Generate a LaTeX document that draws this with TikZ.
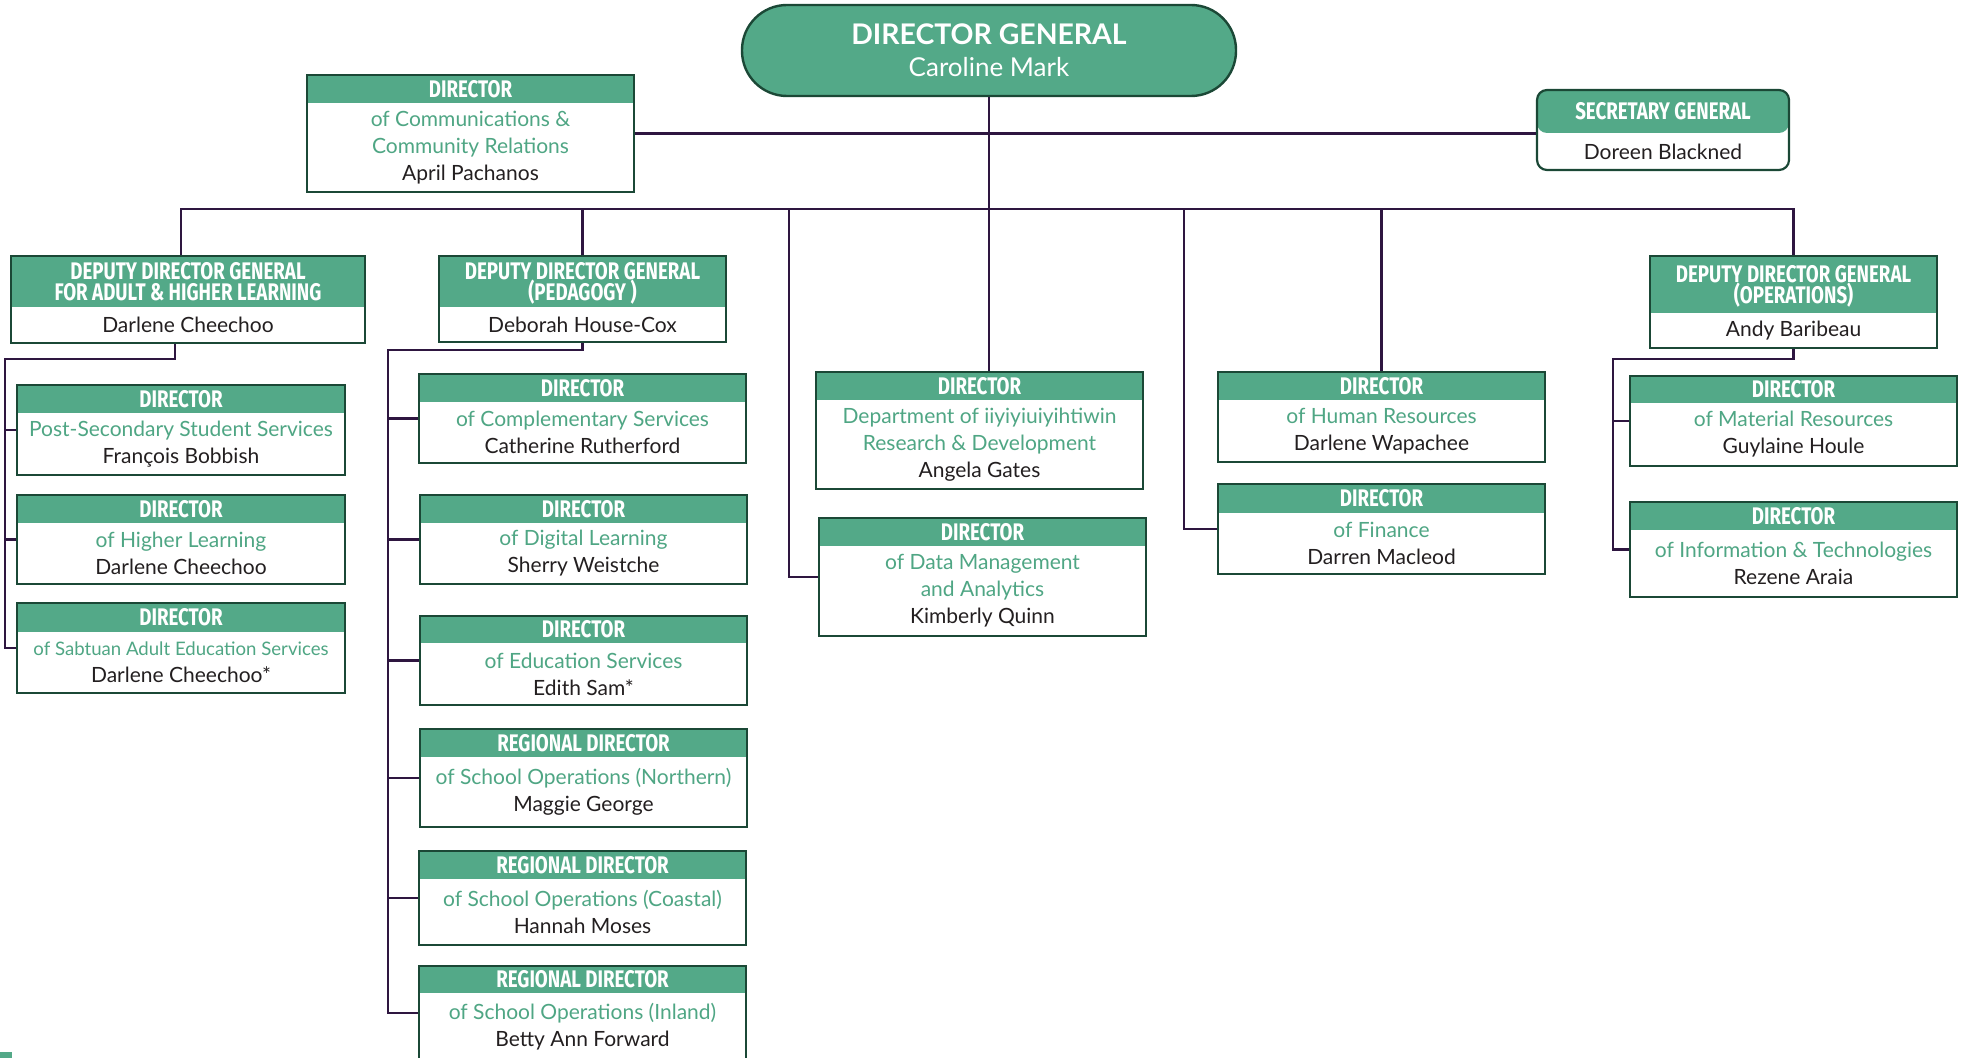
\documentclass[tikz,border=0pt]{standalone}
\usepackage{fontspec}
\setmainfont{Lato}
\newfontfamily\hdfont[FakeStretch=0.78]{Fira Sans}
\definecolor{hdgreen}{RGB}{83,169,136}
\definecolor{subgreen}{RGB}{79,166,132}
\definecolor{boxline}{RGB}{27,72,54}
\definecolor{linkpurple}{RGB}{46,22,64}
\definecolor{nametext}{RGB}{35,31,32}
\newcommand\subline[1]{\textcolor{subgreen}{#1}}
\newcommand\orgunit[9][]{%
  \node[unit, #1, minimum width={(#5-#3)*0.5pt}, minimum height={(#6-#4)*0.5pt},
    path picture={\fill[hdgreen] (path picture bounding box.north west) rectangle
      ([yshift={(#4-#7)*0.5pt}]path picture bounding box.north east);}]
    (#2) at ({(#3+#5)/2},{(#4+#6)/2}) {};
  \node[unittitle] (#2-t) at ({(#3+#5)/2},{(#4+#7)/2}) {#8};
  \node[unitbody] (#2-b) at ({(#3+#5)/2},{(#7+#6)/2}) {#9};
}

\begin{document}
\begin{tikzpicture}[x=0.5pt, y=-0.5pt,
  unit/.style={rectangle, draw=boxline, line width=1.1pt, fill=white, inner sep=0pt},
  unittitle/.style={text=white, font=\hdfont\bfseries\fontsize{12}{10.5}\selectfont, align=center, inner sep=0pt},
  unitbody/.style={text=nametext, font=\fontsize{10.5}{13.5}\selectfont, align=center, inner sep=0pt},
  dgbox/.style={rectangle, rounded corners=22.5pt, draw=boxline, line width=1.2pt, fill=hdgreen,
    text=white, font=\fontsize{13}{16}\selectfont, align=center, inner sep=0pt},
  link/.style={draw=linkpurple, line width=1.2pt}]
  \useasboundingbox (0,0) rectangle (1962,1058);

  \node[dgbox, minimum width=247pt, minimum height=45.5pt] (dg) at (989,50.5)
    {{\bfseries\fontsize{14.2}{16}\selectfont DIRECTOR GENERAL}\\Caroline Mark};

  \orgunit{comms}{307}{75}{634}{192}{103}{DIRECTOR}
    {\subline{of Communications \&}\\\subline{Community Relations}\\April Pachanos}
  \orgunit[rounded corners=5pt]{sg}{1537}{90}{1789}{170}{133}{SECRETARY GENERAL}{Doreen Blackned}

  \orgunit{ddgA}{11}{256}{365}{343}{307}{DEPUTY DIRECTOR GENERAL\\FOR ADULT \& HIGHER LEARNING}{Darlene Cheechoo}
  \orgunit{ddgP}{439}{256}{726}{342}{307}{DEPUTY DIRECTOR GENERAL\\\smash{(PEDAGOGY )}}{Deborah House-Cox}
  \orgunit{ddgO}{1650}{256}{1937}{348}{313}{DEPUTY DIRECTOR GENERAL\\\smash{(OPERATIONS)}}{Andy Baribeau}

  \orgunit{postsec}{17}{385}{345}{475}{413}{DIRECTOR}{\subline{Post-Secondary Student Services}\\François Bobbish}
  \orgunit{higher}{17}{495}{345}{584}{523}{DIRECTOR}{\subline{of Higher Learning}\\Darlene Cheechoo}
  \orgunit{sabtuan}{17}{603}{345}{693}{632}{DIRECTOR}
    {\subline{\fontsize{9.3}{13.5}\selectfont of Sabtuan Adult Education Services}\\Darlene Cheechoo*}

  \orgunit{compl}{419}{374}{746}{463}{402}{DIRECTOR}{\subline{of Complementary Services}\\Catherine Rutherford}
  \orgunit{digital}{420}{495}{747}{584}{523}{DIRECTOR}{\subline{of Digital Learning}\\Sherry Weistche}
  \orgunit{educ}{420}{616}{747}{705}{643}{DIRECTOR}{\subline{of Education Services}\\Edith Sam*}
  \orgunit{north}{420}{729}{747}{827}{757}{REGIONAL DIRECTOR}{\subline{of School Operations (Northern)}\\Maggie George}
  \orgunit{coast}{419}{851}{746}{945}{879}{REGIONAL DIRECTOR}{\subline{of School Operations (Coastal)}\\Hannah Moses}
  \orgunit{inland}{419}{966}{746}{1060}{993}{REGIONAL DIRECTOR}{\subline{of School Operations (Inland)}\\Betty Ann Forward}

  \orgunit{iiyi}{816}{372}{1143}{489}{400}{DIRECTOR}
    {\subline{Department of iiyiyiuiyihtiwin}\\\subline{Research \& Development}\\Angela Gates}
  \orgunit{data}{819}{518}{1146}{636}{546}{DIRECTOR}
    {\subline{of Data Management}\\\subline{and Analytics}\\Kimberly Quinn}
  \orgunit{hr}{1218}{372}{1545}{462}{400}{DIRECTOR}{\subline{of Human Resources}\\Darlene Wapachee}
  \orgunit{fin}{1218}{484}{1545}{574}{513}{DIRECTOR}{\subline{of Finance}\\Darren Macleod}
  \orgunit{mat}{1630}{376}{1957}{466}{403}{DIRECTOR}{\subline{of Material Resources}\\Guylaine Houle}
  \orgunit{info}{1630}{502}{1957}{597}{530}{DIRECTOR}{\subline{of Information \& Technologies}\\Rezene Araia}

  \coordinate (bus) at (987,209);
  \coordinate (dropD) at (789,209);
  \coordinate (dropF) at (1184,209);
  \coordinate (spineA) at (5,359);
  \coordinate (spineP) at (388,350);
  \coordinate (spineO) at (1613,359);

  \draw[link] (dg.south) -- (dg.south |- iiyi.north);
  \draw[link] (comms.east) -- (comms.east -| sg.west);
  \draw[link] ([xshift=-3.5pt]ddgA.north) |- (bus) -| (ddgO.north);
  \draw[link] (ddgP.north) -- (ddgP.north |- bus);
  \draw[link] (hr.north) -- (hr.north |- bus);
  \draw[link] (data.west) -| (dropD);
  \draw[link] (fin.west) -| (dropF);
  \draw[link] ([xshift=-6.5pt]ddgA.south) |- (spineA) |- (sabtuan.west);
  \foreach \u in {postsec,higher} \draw[link] (\u.west) -- (\u.west -| spineA);
  \draw[link] (ddgP.south) |- (spineP) |- (inland.west);
  \foreach \u in {compl,digital,educ,north,coast} \draw[link] (\u.west) -- (\u.west -| spineP);
  \draw[link] (ddgO.south) |- (spineO) |- (info.west);
  \draw[link] (mat.west) -- (mat.west -| spineO);

  \fill[hdgreen] (0,1052) rectangle (12,1058);
\end{tikzpicture}
\end{document}
